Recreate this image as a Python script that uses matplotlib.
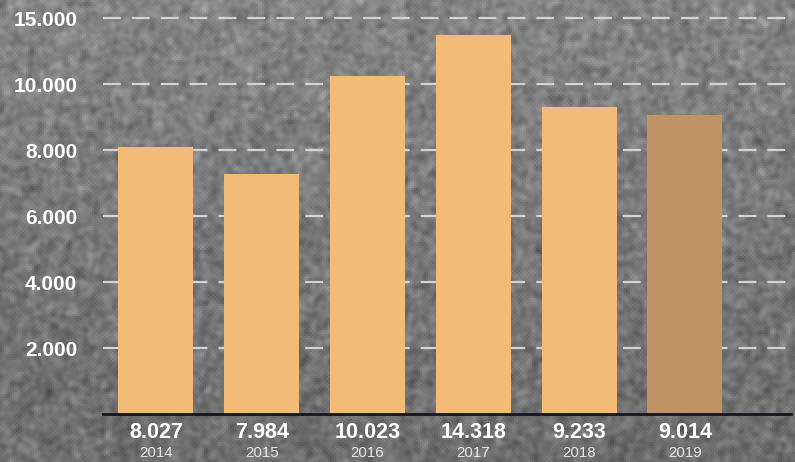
import numpy as np
import matplotlib
matplotlib.use("Agg")
import matplotlib.pyplot as plt

years = ["2014", "2015", "2016", "2017", "2018", "2019"]
value_labels = ["8.027", "7.984", "10.023", "14.318", "9.233", "9.014"]
# bar heights as drawn in the picture (thousands, on the evenly spaced grid)
heights = [8.09, 7.27, 10.24, 11.48, 9.30, 9.06]
bar_colors = ["#f2bc78", "#f2bc78", "#f2bc78", "#f2bc78", "#f2bc78", "#c09366"]
ytick_pos = [2, 4, 6, 8, 10, 12]
ytick_labels = ["2.000", "4.000", "6.000", "8.000", "10.000", "15.000"]

plt.rcParams['font.family'] = ['Liberation Sans', 'DejaVu Sans']

W, H = 795, 462
fig = plt.figure(figsize=(W / 100, H / 100), dpi=100)

# gray textured background
rng = np.random.default_rng(3)
noise = rng.normal(0, 1, (H // 2 + 1, W // 2 + 1))
for _ in range(3):
    noise = (noise + np.roll(noise, 1, 0) + np.roll(noise, -1, 0)
             + np.roll(noise, 1, 1) + np.roll(noise, -1, 1)) / 5
noise = np.repeat(np.repeat(noise, 2, 0), 2, 1)[:H, :W]
noise = noise / noise.std()
grad = np.linspace(132, 110, H)[:, None]
bg = np.clip(grad + noise * 9, 0, 255) / 255

bg_ax = fig.add_axes([0, 0, 1, 1])
bg_ax.imshow(np.dstack([bg, bg, bg]), aspect="auto", interpolation="bilinear")
bg_ax.axis("off")

ax = fig.add_axes([103 / W, (H - 414) / H, (795 - 103) / W, 414 / H])
ax.patch.set_alpha(0)

x = np.arange(len(years))
ax.bar(x, heights, width=0.709, color=bar_colors, zorder=3)

ax.set_xlim(-0.5, 6.04)
ax.set_ylim(0, 414 / 33)
ax.set_yticks(ytick_pos)
ax.set_yticklabels(ytick_labels, color="white", fontsize=15, fontweight="bold")
ax.tick_params(axis="y", length=0, pad=18.5)
ax.set_xticks([])
ax.yaxis.grid(True, color="#d4d4d4", linestyle=(0, (8, 5)), linewidth=1.6)
ax.set_axisbelow(True)

for s in ["top", "right", "left", "bottom"]:
    ax.spines[s].set_visible(False)
ax.axhline(0, xmin=0, xmax=(791 - 103) / (795 - 103), color="#15151f", linewidth=2, zorder=4, clip_on=False)

for xi, v, yr in zip(x, value_labels, years):
    ax.annotate(v, (xi, 0), xycoords=("data", "axes fraction"), xytext=(0, -13.2),
                textcoords="offset points", ha="center", va="center",
                color="white", fontsize=15.5, fontweight="bold")
    ax.annotate(yr, (xi, 0), xycoords=("data", "axes fraction"), xytext=(0, -27.8),
                textcoords="offset points", ha="center", va="center",
                color="#e6e6e6", fontsize=10.8)

fig.savefig("out.png", dpi=100)
